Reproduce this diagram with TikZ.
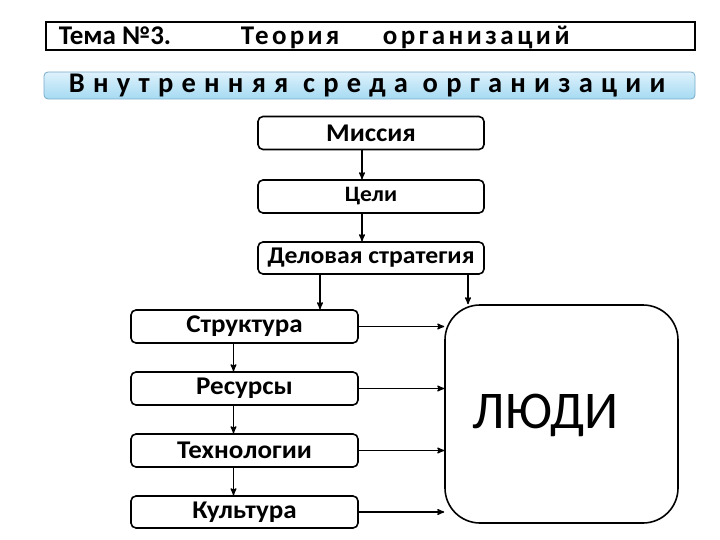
\documentclass[tikz,border=0pt]{standalone}
\usepackage{fontspec}
\setmainfont{Carlito}
\usetikzlibrary{arrows}
\definecolor{barTop}{RGB}{222,242,252}
\definecolor{barBottom}{RGB}{165,218,242}
\definecolor{barLine}{RGB}{120,170,200}

\begin{document}
\begin{tikzpicture}[x=1pt,y=-1pt,>=stealth',line width=1.6pt,
	block/.style={draw,rounded corners=5pt,minimum width=226pt,minimum height=33pt,
		inner sep=0pt,font=\bfseries\fontsize{25.5}{27}\selectfont\addfontfeatures{FakeStretch=1.06}},
	flow/.style={->,line width=1.4pt}]
	\useasboundingbox (0,0) rectangle (720,540);

	% header
	\draw[line width=1.8pt] (46,22) rectangle (695,50);
	\node[anchor=base west,inner sep=0pt,font=\bfseries\fontsize{27}{28}\selectfont] (topic) at (58,45) {Тема №3.};
	\node[anchor=base west,inner sep=0pt,font=\bfseries\fontsize{27}{28}\selectfont\addfontfeatures{LetterSpace=12}] (theory) at (240,45) {Теория};
	\node[anchor=base west,inner sep=0pt,font=\bfseries\fontsize{27}{28}\selectfont\addfontfeatures{LetterSpace=13}] (org) at (382,45) {организаций};

	\shade[top color=barTop,bottom color=barBottom,draw=barLine,line width=0.8pt,rounded corners=4pt] (44,72) rectangle (695,99);
	\node[anchor=base west,inner sep=0pt,font=\bfseries\fontsize{28.5}{30}\selectfont\addfontfeatures{LetterSpace=29}] (inner) at (68,93) {Внутренняя среда организации};

	% chain
	\node[block,font=\bfseries\fontsize{25.5}{27}\selectfont\addfontfeatures{FakeStretch=1.06}] (mission) at (371,133) {Миссия};
	\node[block,font=\bfseries\fontsize{22}{24}\selectfont\addfontfeatures{FakeStretch=1.07}] (goals) at (371,196.5) {Цели};
	\node[block,font=\bfseries\fontsize{24}{26}\selectfont\addfontfeatures{FakeStretch=1.07},minimum height=32pt] (strategy) at (371,258) {Деловая стратегия};

	\node[block,minimum width=227pt] (structure) at (244.5,326.5) {Структура};
	\node[block,minimum width=227pt] (resources) at (244.5,388.5) {Ресурсы};
	\node[block,minimum width=227pt] (technology) at (244.5,450.5) {Технологии};
	\node[block,minimum width=227pt,minimum height=32pt] (culture) at (244.5,512) {Культура};

	\node[draw,rounded corners=35pt,minimum width=233pt,minimum height=218pt] (people) at (561.5,414) {};
	\node[font=\fontsize{53}{56}\selectfont,inner sep=0pt] (peopletext) at ([xshift=-16pt,yshift=-1pt]people.center) {ЛЮДИ};

	\coordinate (m1) at ([xshift=-9pt]mission.south);
	\coordinate (g1) at ([xshift=-9pt]goals.south);
	\coordinate (s1) at ([xshift=-51pt]strategy.south);
	\coordinate (s2) at ([xshift=97pt]strategy.south);
	\coordinate (c1) at ([xshift=-11pt]structure.south);
	\coordinate (c2) at ([xshift=-11pt]resources.south);
	\coordinate (c3) at ([xshift=-11pt]technology.south);

	\draw[flow] (m1) -- (m1 |- goals.north);
	\draw[flow] (g1) -- (g1 |- strategy.north);
	\draw[flow] (s1) -- (s1 |- structure.north);
	\draw[flow] (s2) -- (s2 |- people.north);
	\draw[flow] (c1) -- (c1 |- resources.north);
	\draw[flow] (c2) -- (c2 |- technology.north);
	\draw[flow] (c3) -- (c3 |- culture.north);

	\draw[flow] (structure.east) -- (structure.east -| people.west);
	\draw[flow] (resources.east) -- (resources.east -| people.west);
	\draw[flow] (technology.east) -- (technology.east -| people.west);
	\draw[flow] (culture.east) -- (culture.east -| people.west);
\end{tikzpicture}
\end{document}
